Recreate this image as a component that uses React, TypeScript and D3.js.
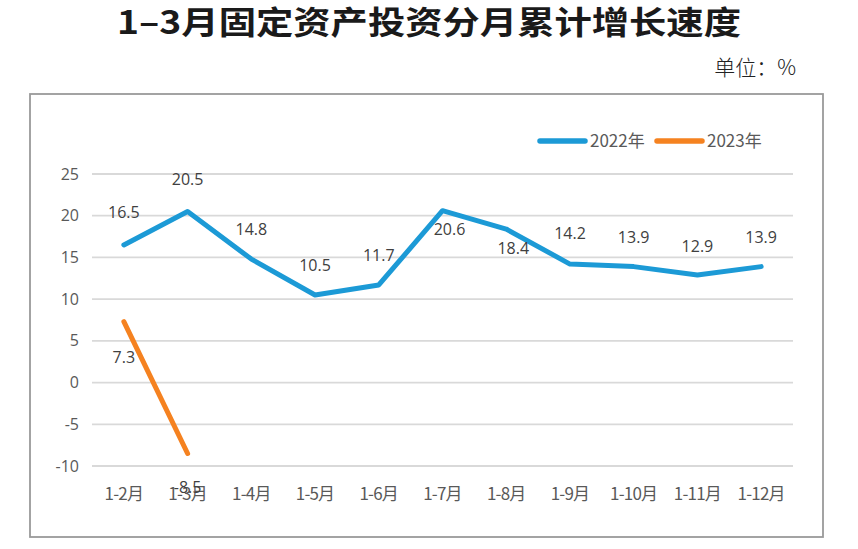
import { useMemo } from 'react';
import * as d3 from 'd3';

// ---- data ----
const months = ['1-2月', '1-3月', '1-4月', '1-5月', '1-6月', '1-7月', '1-8月', '1-9月', '1-10月', '1-11月', '1-12月'];
const values2022 = [16.5, 20.5, 14.8, 10.5, 11.7, 20.6, 18.4, 14.2, 13.9, 12.9, 13.9];
const values2023 = [7.3, -8.5];
const yTicks = [25, 20, 15, 10, 5, 0, -5, -10];
const seriesNames = ['2022年', '2023年'];

// label placement (px offset from point, vertical)
const labelDy2022 = [-33, -32, -30, -30, -30, 19, 19, -31, -29, -29, -29];
const labelDx2022 = [0, 0, 0, 0, 0, 7, 7, 0, 0, 0, 0];
const labelDy2023 = [36, 34];

const BLUE = '#1C9AD6';
const ORANGE = '#F58220';
const W = 858;
const H = 549;

export default function App() {
  const margin = { left: 92, right: 793, top: 174, bottom: 466 };

  const x = useMemo(
    () => d3.scaleBand<string>().domain(months).range([margin.left, margin.right]),
    []
  );
  const y = useMemo(
    () => d3.scaleLinear().domain([-10, 25]).range([margin.bottom, margin.top]),
    []
  );
  const cx = (i: number) => (x(months[i]) || 0) + x.bandwidth() / 2;

  const line = d3
    .line<number>()
    .x((_, i) => cx(i))
    .y((d) => y(d));

  const numFont = "'Open Sans', 'Noto Sans', sans-serif";

  return (
    <svg width={W} height={H} style={{ position: 'absolute', left: 0, top: 0, background: '#fff' }}>
      <rect x={0} y={0} width={W} height={H} fill="#fff" />
      {/* title */}
      <text
        x={429}
        y={34}
        textAnchor="middle"
        fontFamily="'Noto Sans CJK SC', sans-serif"
        fontWeight={700}
        fontSize={32}
        fill="#1a1a1a"
        textLength={624}
        lengthAdjust="spacingAndGlyphs"
      >
        1–3月固定资产投资分月累计增长速度
      </text>
      <text
        x={796}
        y={75}
        textAnchor="end"
        fontFamily="'Noto Sans CJK SC', serif"
        fontWeight={300}
        fontSize={21}
        fill="#222"
      >
        单位：%
      </text>

      {/* frame */}
      <rect x={30} y={94} width={793} height={443} fill="none" stroke="#9a9a9a" strokeWidth={1.8} />

      {/* gridlines + y ticks */}
      {yTicks.map((t) => (
        <g key={t}>
          <line x1={margin.left} x2={margin.right} y1={y(t)} y2={y(t)} stroke="#d9d9d9" strokeWidth={1.8} />
          <text
            x={79}
            y={y(t)}
            dy="0.35em"
            textAnchor="end"
            fontFamily={numFont}
            fontSize={16}
            fill="#595959"
          >
            {t}
          </text>
        </g>
      ))}

      {/* x labels */}
      {months.map((m, i) => (
        <text
          key={m}
          x={cx(i)}
          y={500}
          textAnchor="middle"
          fontFamily="'Noto Sans CJK SC', sans-serif"
          fontSize={17}
          fill="#595959"
          letterSpacing={-0.8}
        >
          {m}
        </text>
      ))}

      {/* series */}
      <path d={line(values2022) || ''} fill="none" stroke={BLUE} strokeWidth={5} strokeLinejoin="round" strokeLinecap="round" />
      <path d={line(values2023) || ''} fill="none" stroke={ORANGE} strokeWidth={5} strokeLinejoin="round" strokeLinecap="round" />

      {/* data labels */}
      {values2022.map((v, i) => (
        <text
          key={'a' + i}
          x={cx(i) + labelDx2022[i]}
          y={y(v) + labelDy2022[i]}
          dy="0.35em"
          textAnchor="middle"
          fontFamily={numFont}
          fontSize={16}
          fill="#404040"
        >
          {v.toFixed(1)}
        </text>
      ))}
      {values2023.map((v, i) => (
        <text
          key={'b' + i}
          x={cx(i)}
          y={y(v) + labelDy2023[i]}
          dy="0.35em"
          textAnchor="middle"
          fontFamily={numFont}
          fontSize={16}
          fill="#404040"
        >
          {v.toFixed(1)}
        </text>
      ))}

      {/* legend */}
      {seriesNames.map((s, i) => {
        const lx = 540 + i * 117;
        return (
          <g key={s}>
            <line x1={lx} x2={lx + 45} y1={141} y2={141} stroke={i === 0 ? BLUE : ORANGE} strokeWidth={5.5} strokeLinecap="round" />
            <text
              x={lx + 50}
              y={141}
              dy="0.35em"
              fontFamily="'Noto Sans CJK SC', sans-serif"
              fontSize={17}
              fill="#595959"
            >
              {s}
            </text>
          </g>
        );
      })}
    </svg>
  );
}
